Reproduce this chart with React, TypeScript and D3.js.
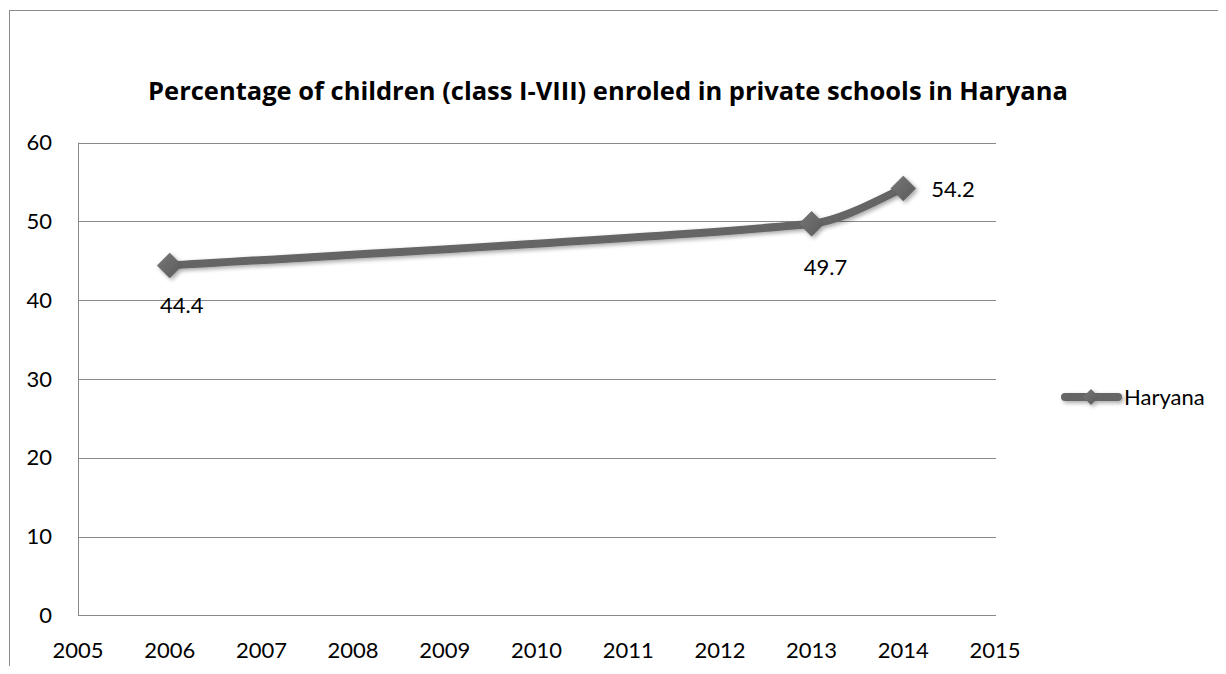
import React, { useLayoutEffect, useRef, useState } from "react";
import * as d3 from "d3";

const years = [2006, 2013, 2014];
const values = [44.4, 49.7, 54.2];
const yTicks = [0, 10, 20, 30, 40, 50, 60];
const xTicks = [2005, 2006, 2007, 2008, 2009, 2010, 2011, 2012, 2013, 2014, 2015];
const seriesName = "Haryana";
const title = "Percentage of children (class I-VIII) enroled in private schools in Haryana";

const W = 1226;
const H = 674;
const FONT = "Lato, 'Open Sans', sans-serif";
const LINE_COLOR = "#656565";
const TITLE_WIDTH = 920;

// Excel-like smoothed line: tangent (P[i+1]-P[i-1])/6, clipped to a third of each adjacent segment
function smoothPath(pts: [number, number][]) {
  const p = d3.path();
  const n = pts.length;
  const dist = (a: [number, number], b: [number, number]) => Math.hypot(b[0] - a[0], b[1] - a[1]);
  const tang = pts.map((_, i) => {
    const a = pts[Math.max(0, i - 1)];
    const b = pts[Math.min(n - 1, i + 1)];
    return [(b[0] - a[0]) / 6, (b[1] - a[1]) / 6] as [number, number];
  });
  p.moveTo(pts[0][0], pts[0][1]);
  for (let i = 0; i < n - 1; i++) {
    const a = pts[i];
    const b = pts[i + 1];
    const seg = dist(a, b) / 3;
    const ta = tang[i];
    const tb = tang[i + 1];
    const la = Math.hypot(ta[0], ta[1]);
    const lb = Math.hypot(tb[0], tb[1]);
    const sa = la > seg ? seg / la : 1;
    const sb = lb > seg ? seg / lb : 1;
    p.bezierCurveTo(
      a[0] + ta[0] * sa,
      a[1] + ta[1] * sa,
      b[0] - tb[0] * sb,
      b[1] - tb[1] * sb,
      b[0],
      b[1]
    );
  }
  return p.toString();
}

export default function App() {
  const titleRef = useRef<SVGTextElement>(null);
  const [titleSize, setTitleSize] = useState(25);

  useLayoutEffect(() => {
    const el = titleRef.current;
    if (!el) return;
    const w = el.getComputedTextLength();
    if (w > 0 && Math.abs(w - TITLE_WIDTH) > 2) {
      setTitleSize((s) => (s * TITLE_WIDTH) / w);
    }
  }, [titleSize]);

  const x = d3.scaleLinear().domain([2005, 2015]).range([78, 995]);
  const y = d3.scaleLinear().domain([0, 60]).range([615.3, 142.7]);
  const pts = years.map((yr, i) => [x(yr), y(values[i])] as [number, number]);
  const line = smoothPath(pts);
  const diamond = (cx: number, cy: number, r: number) =>
    `M${cx},${cy - r}L${cx + r},${cy}L${cx},${cy + r}L${cx - r},${cy}Z`;

  const labelOffsets = [
    { dx: 12, dy: 47, anchor: "middle" },
    { dx: 14, dy: 51, anchor: "middle" },
    { dx: 28, dy: 9, anchor: "start" },
  ];

  return (
    <div style={{ margin: -8 }}>
      <svg width={W} height={H} style={{ display: "block", fontFamily: FONT }}>
        <defs>
          <filter id="shadow" x="-20%" y="-50%" width="140%" height="200%">
            <feGaussianBlur in="SourceAlpha" stdDeviation="2" />
            <feOffset dx="1.5" dy="2" result="ob" />
            <feComponentTransfer>
              <feFuncA type="linear" slope="0.35" />
            </feComponentTransfer>
            <feMerge>
              <feMergeNode />
              <feMergeNode in="SourceGraphic" />
            </feMerge>
          </filter>
          <linearGradient id="mk" x1="0" y1="0" x2="1" y2="1">
            <stop offset="0" stopColor="#777" />
            <stop offset="1" stopColor="#5a5a5a" />
          </linearGradient>
        </defs>
        <rect x={9.5} y={10.5} width={1230} height={700} fill="white" stroke="#8c8c8c" strokeWidth={1} />
        <text
          ref={titleRef}
          x={608}
          y={100}
          textAnchor="middle"
          fontSize={titleSize}
          fontWeight="bold"
          fontFamily="'Open Sans', Lato, sans-serif"
          fill="#000"
        >
          {title}
        </text>
        {yTicks.map((t) => (
          <g key={t}>
            <line x1={78} x2={996} y1={Math.round(y(t)) + 0.5} y2={Math.round(y(t)) + 0.5} stroke="#8a8a8a" strokeWidth={1} />
            <text x={52} y={y(t)} dy="0.35em" textAnchor="end" fontSize={22} fill="#000">
              {t}
            </text>
          </g>
        ))}
        <line x1={78.5} x2={78.5} y1={142.7} y2={615.3} stroke="#8a8a8a" strokeWidth={1} />
        {xTicks.map((t) => (
          <text key={t} x={x(t)} y={658} textAnchor="middle" fontSize={22} fill="#000">
            {t}
          </text>
        ))}
        <g filter="url(#shadow)">
          <path d={line} fill="none" stroke={LINE_COLOR} strokeWidth={8} strokeLinecap="round" strokeLinejoin="round" />
          {pts.map(([cx, cy], i) => (
            <path key={i} d={diamond(cx, cy, 12.5)} fill="url(#mk)" stroke="#5e5e5e" strokeWidth={0.5} />
          ))}
        </g>
        {pts.map(([cx, cy], i) => (
          <text
            key={"l" + i}
            x={cx + labelOffsets[i].dx}
            y={cy + labelOffsets[i].dy}
            textAnchor={labelOffsets[i].anchor as any}
            fontSize={22}
            fill="#000"
          >
            {values[i].toFixed(1)}
          </text>
        ))}
        <g filter="url(#shadow)">
          <line x1={1065} x2={1118} y1={397} y2={397} stroke={LINE_COLOR} strokeWidth={8} strokeLinecap="round" />
          <path d={diamond(1091, 397, 8)} fill="url(#mk)" />
        </g>
        <text x={1124} y={405} fontSize={22} fill="#000">
          {seriesName}
        </text>
      </svg>
    </div>
  );
}
